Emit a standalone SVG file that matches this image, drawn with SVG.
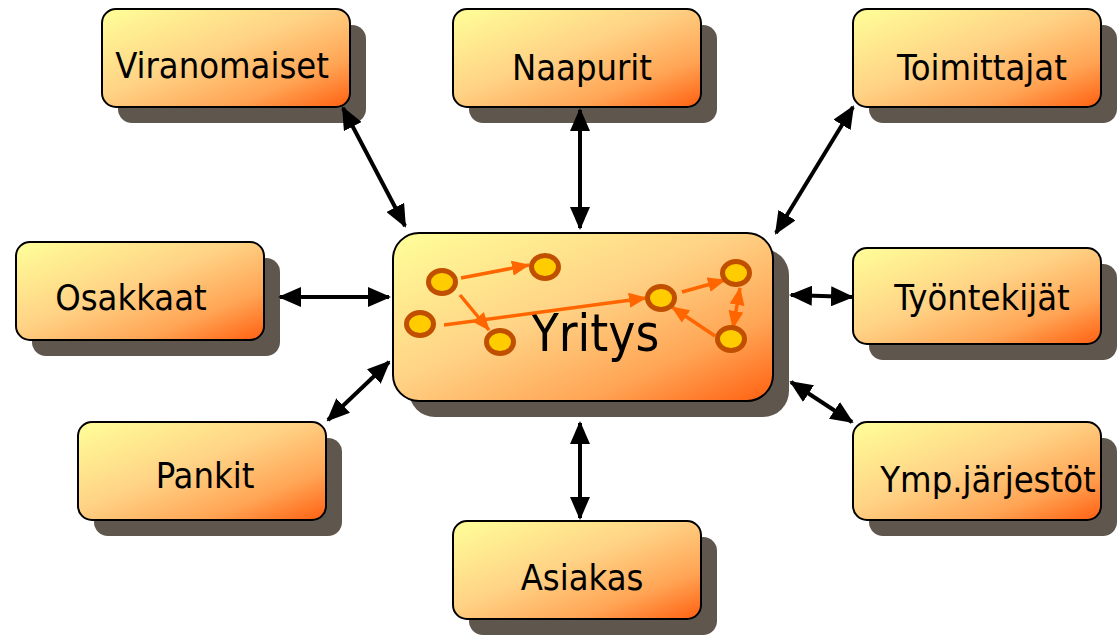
<svg xmlns="http://www.w3.org/2000/svg" width="1120" height="635" viewBox="0 0 1120 635">
<defs>
<linearGradient id="g" x1="0" y1="0" x2="1" y2="1">
<stop offset="0" stop-color="#ffff99"/>
<stop offset="0.45" stop-color="#ffd285"/>
<stop offset="0.75" stop-color="#ffa555"/>
<stop offset="1" stop-color="#ff6010"/>
</linearGradient>
<marker id="ah" markerUnits="userSpaceOnUse" markerWidth="23" markerHeight="20" refX="21" refY="10" orient="auto-start-reverse" viewBox="0 0 23 20">
<path d="M0,0 L23,10 L0,20 Z" fill="#000"/>
</marker>
<marker id="oh" markerUnits="userSpaceOnUse" markerWidth="18" markerHeight="15" refX="17" refY="7.5" orient="auto-start-reverse" viewBox="0 0 18 15">
<path d="M0,0 L18,7.5 L0,15 Z" fill="#ff6600"/>
</marker>
</defs>
<style>
.sh{fill:#5f574e}
.bx{fill:url(#g);stroke:#000;stroke-width:2}
.t{font-family:"DejaVu Sans Condensed","DejaVu Sans",sans-serif;font-size:36px;fill:#000;text-anchor:middle}
.big{font-size:51px}
.c{stroke:#000;stroke-width:4;fill:none;marker-start:url(#ah);marker-end:url(#ah)}
.oc{stroke:#ff6600;stroke-width:3.5;fill:none;marker-end:url(#oh)}
.ob{marker-start:url(#oh)}
.dot{fill:#ffcc00;stroke:#c05000;stroke-width:5}
</style>
<g id="viranomaiset">
<rect class="sh" x="118" y="25" width="248" height="98" rx="14"/>
<rect class="bx" x="102" y="9" width="248" height="98" rx="14"/>
<text class="t" x="222" y="78">Viranomaiset</text>
</g>
<g id="naapurit">
<rect class="sh" x="469" y="25" width="248" height="98" rx="14"/>
<rect class="bx" x="453" y="9" width="248" height="98" rx="14"/>
<text class="t" x="582" y="80">Naapurit</text>
</g>
<g id="toimittajat">
<rect class="sh" x="869" y="25" width="248" height="98" rx="14"/>
<rect class="bx" x="853" y="9" width="248" height="98" rx="14"/>
<text class="t" x="982" y="80">Toimittajat</text>
</g>
<g id="osakkaat">
<rect class="sh" x="32" y="258" width="248" height="98" rx="14"/>
<rect class="bx" x="16" y="242" width="248" height="98" rx="14"/>
<text class="t" x="131" y="310">Osakkaat</text>
</g>
<g id="tyontekijat">
<rect class="sh" x="869" y="264" width="248" height="96" rx="14"/>
<rect class="bx" x="853" y="248" width="248" height="96" rx="14"/>
<text class="t" x="982" y="310">Työntekijät</text>
</g>
<g id="pankit">
<rect class="sh" x="94" y="438" width="248" height="98" rx="14"/>
<rect class="bx" x="78" y="422" width="248" height="98" rx="14"/>
<text class="t" x="205" y="488">Pankit</text>
</g>
<g id="ymp">
<rect class="sh" x="869" y="438" width="248" height="98" rx="14"/>
<rect class="bx" x="853" y="422" width="248" height="98" rx="14"/>
<text class="t" x="988" y="492">Ymp.järjestöt</text>
</g>
<g id="asiakas">
<rect class="sh" x="469" y="537" width="248" height="98" rx="14"/>
<rect class="bx" x="453" y="521" width="248" height="98" rx="14"/>
<text class="t" x="582" y="590">Asiakas</text>
</g>
<g id="yritys">
<rect class="sh" x="409" y="249" width="380" height="168" rx="26"/>
<rect class="bx" x="393" y="233" width="380" height="168" rx="26"/>
<text class="t big" x="595" y="351">Yritys</text>
<g id="inner-arrows">
<line class="oc" x1="461" y1="278" x2="529" y2="265"/>
<line class="oc" x1="460" y1="295" x2="489" y2="330"/>
<line class="oc" x1="444" y1="325" x2="646" y2="298"/>
<line class="oc" x1="682" y1="292" x2="725" y2="280"/>
<line class="oc" x1="715" y1="336" x2="672" y2="307"/>
<line class="oc ob" x1="740" y1="288" x2="733" y2="328"/>
</g>
<ellipse class="dot" cx="442" cy="282" rx="13.5" ry="11.5"/>
<ellipse class="dot" cx="545" cy="267" rx="13.5" ry="11.5"/>
<ellipse class="dot" cx="420" cy="324" rx="13.5" ry="11.5"/>
<ellipse class="dot" cx="500" cy="342" rx="13.5" ry="11.5"/>
<ellipse class="dot" cx="661" cy="298" rx="13.5" ry="11.5"/>
<ellipse class="dot" cx="736" cy="273" rx="13.5" ry="11.5"/>
<ellipse class="dot" cx="731" cy="339" rx="13.5" ry="11.5"/>
</g>
<g id="connectors">
<line class="c" x1="343" y1="108" x2="405" y2="226"/>
<line class="c" x1="580" y1="110" x2="580" y2="228"/>
<line class="c" x1="853" y1="107" x2="776" y2="233"/>
<line class="c" x1="280" y1="297" x2="389" y2="297"/>
<line class="c" x1="791" y1="295" x2="852" y2="297"/>
<line class="c" x1="328" y1="420" x2="389" y2="362"/>
<line class="c" x1="791" y1="382" x2="852" y2="422"/>
<line class="c" x1="580" y1="423" x2="580" y2="518"/>
</g>
</svg>
